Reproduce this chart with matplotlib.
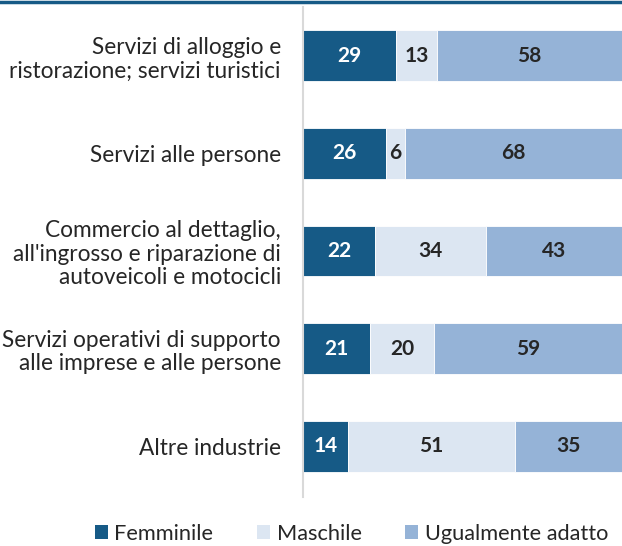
import numpy as np
import matplotlib.pyplot as plt
from matplotlib.patches import Patch

categories = [
    "Servizi di alloggio e\nristorazione; servizi turistici",
    "Servizi alle persone",
    "Commercio al dettaglio,\nall'ingrosso e riparazione di\nautoveicoli e motocicli",
    "Servizi operativi di supporto\nalle imprese e alle persone",
    "Altre industrie",
]
# bar widths and printed labels
femminile = [29.2, 26, 22.6, 21, 14.2]
maschile = [12.9, 6, 34.8, 20, 52.2]
ugualmente = [57.9, 68, 42.6, 59, 33.6]
femminile_lbl = [29, 26, 22, 21, 14]
maschile_lbl = [13, 6, 34, 20, 51]
ugualmente_lbl = [58, 68, 43, 59, 35]
series_names = ["Femminile", "Maschile", "Ugualmente adatto"]
colors = ["#165a86", "#dce6f2", "#95b3d7"]
text_colors = ["white", "#262626", "#262626"]

plt.rcParams['font.family'] = ['Lato', 'DejaVu Sans']

fig = plt.figure(figsize=(6.22, 5.46), dpi=100)
W, H = 622, 546
ax = fig.add_axes([303 / W, 1 - 497 / H, 319 / W, (497 - 7) / H])

y = np.arange(len(categories))
left = np.zeros(len(categories))
series = [(femminile, femminile_lbl), (maschile, maschile_lbl),
          (ugualmente, ugualmente_lbl)]
for (vals, lbls), c, tc in zip(series, colors, text_colors):
    vals = np.array(vals, dtype=float)
    ax.barh(y, vals, left=left, height=0.52, color=c,
            edgecolor="white", linewidth=0.6)
    for yi, l, v, t in zip(y, left, vals, lbls):
        ax.text(l + v / 2, yi, str(t), ha="center", va="center",
                color=tc, fontsize=15, fontweight="bold")
    left += vals

ax.set_xlim(0, 100)
ax.set_ylim(4.52, -0.5)
ax.set_yticks(y)
ax.set_yticklabels(categories, fontsize=16.3, color="#262626", linespacing=1.15)
ax.tick_params(axis="y", length=0, pad=16)
ax.set_xticks([])
for s in ["top", "right", "bottom"]:
    ax.spines[s].set_visible(False)
ax.spines["left"].set_color("#d9d9d9")
ax.spines["left"].set_linewidth(1.5)

# top rule
fig.add_artist(plt.Line2D([0, 1], [1 - 1.5 / H, 1 - 1.5 / H],
                          color="#165a86", linewidth=2.5,
                          transform=fig.transFigure))

handles = [Patch(facecolor=c, label=n) for c, n in zip(colors, series_names)]
fig.legend(handles=handles, loc="center", bbox_to_anchor=(0.565, 1 - 534 / H),
           ncol=3, frameon=False, fontsize=15.7, handlelength=0.6,
           handleheight=0.6, handletextpad=0.3, columnspacing=2.0,
           labelcolor="#262626", borderpad=0.2)

fig.savefig("out.png", dpi=100)
